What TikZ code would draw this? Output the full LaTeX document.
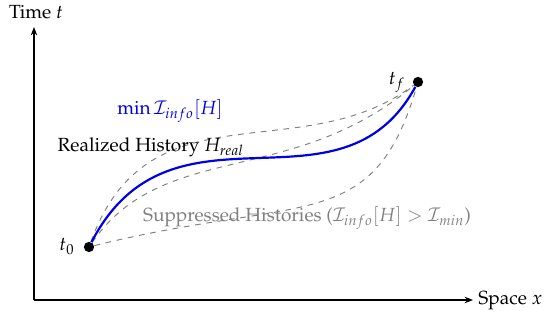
\documentclass[tikz,border=0pt]{standalone}
\usepackage[T1]{fontenc}
\usepackage{mathpazo}
\usetikzlibrary{arrows.meta}
\definecolor{histgray}{RGB}{128,128,128}
\definecolor{realblue}{RGB}{0,0,230}
\tikzset{
  axis/.style={line width=0.68pt,-{Stealth[length=4.4pt,width=3.4pt]}},
  dot/.style={circle,fill=black,inner sep=0pt,minimum size=5.4pt},
  realpath/.style={realblue,line width=1.15pt},
  suppressed/.style={histgray,dashed,line width=0.5pt},
  lbl/.style={anchor=base,inner sep=0pt},
}
\begin{document}
\begin{tikzpicture}[x=0.525pt,y=-0.525pt]
\useasboundingbox (0,0) rectangle (550,318);
% axes
\coordinate (O) at (34,300);
\coordinate (ytip) at (34,27);
\coordinate (xtip) at (473,300);
\draw[axis] (O) -- (ytip);
\draw[axis] (O) -- (xtip);
\node[lbl] (tlab) at (36,19) {Time $t$};
\node[lbl,anchor=base west] (xlab) at (478,305) {Space $x$};
% endpoints
\node[dot] (t0) at (89,247) {};
\node[dot] (tf) at (418,82) {};
\node[lbl] (t0lab) at (67,251) {$t_0$};
\node[lbl] (tflab) at (397,85) {$t_f$};
% suppressed histories
\draw[suppressed] (t0) .. controls (148.5,82.5) and (300,170) .. (tf);
\draw[suppressed] (t0) .. controls (163,140) and (291,188) .. (tf);
\draw[suppressed] (t0) .. controls (302,194) and (373,236) .. (tf);
% realized history
\draw[realpath] (t0) .. controls (172,87) and (340,225) .. (tf);
% labels
\node[lbl,text=realblue] (minlab) at (170,115) {$\min \mathcal{I}_{info}[H]$};
\node[lbl] (reallab) at (151,152) {Realized History $H_{real}$};
\node[lbl,text=histgray] (supplab) at (307,222) {Suppressed Histories ($\mathcal{I}_{info}[H] > \mathcal{I}_{min}$)};
\end{tikzpicture}
\end{document}
